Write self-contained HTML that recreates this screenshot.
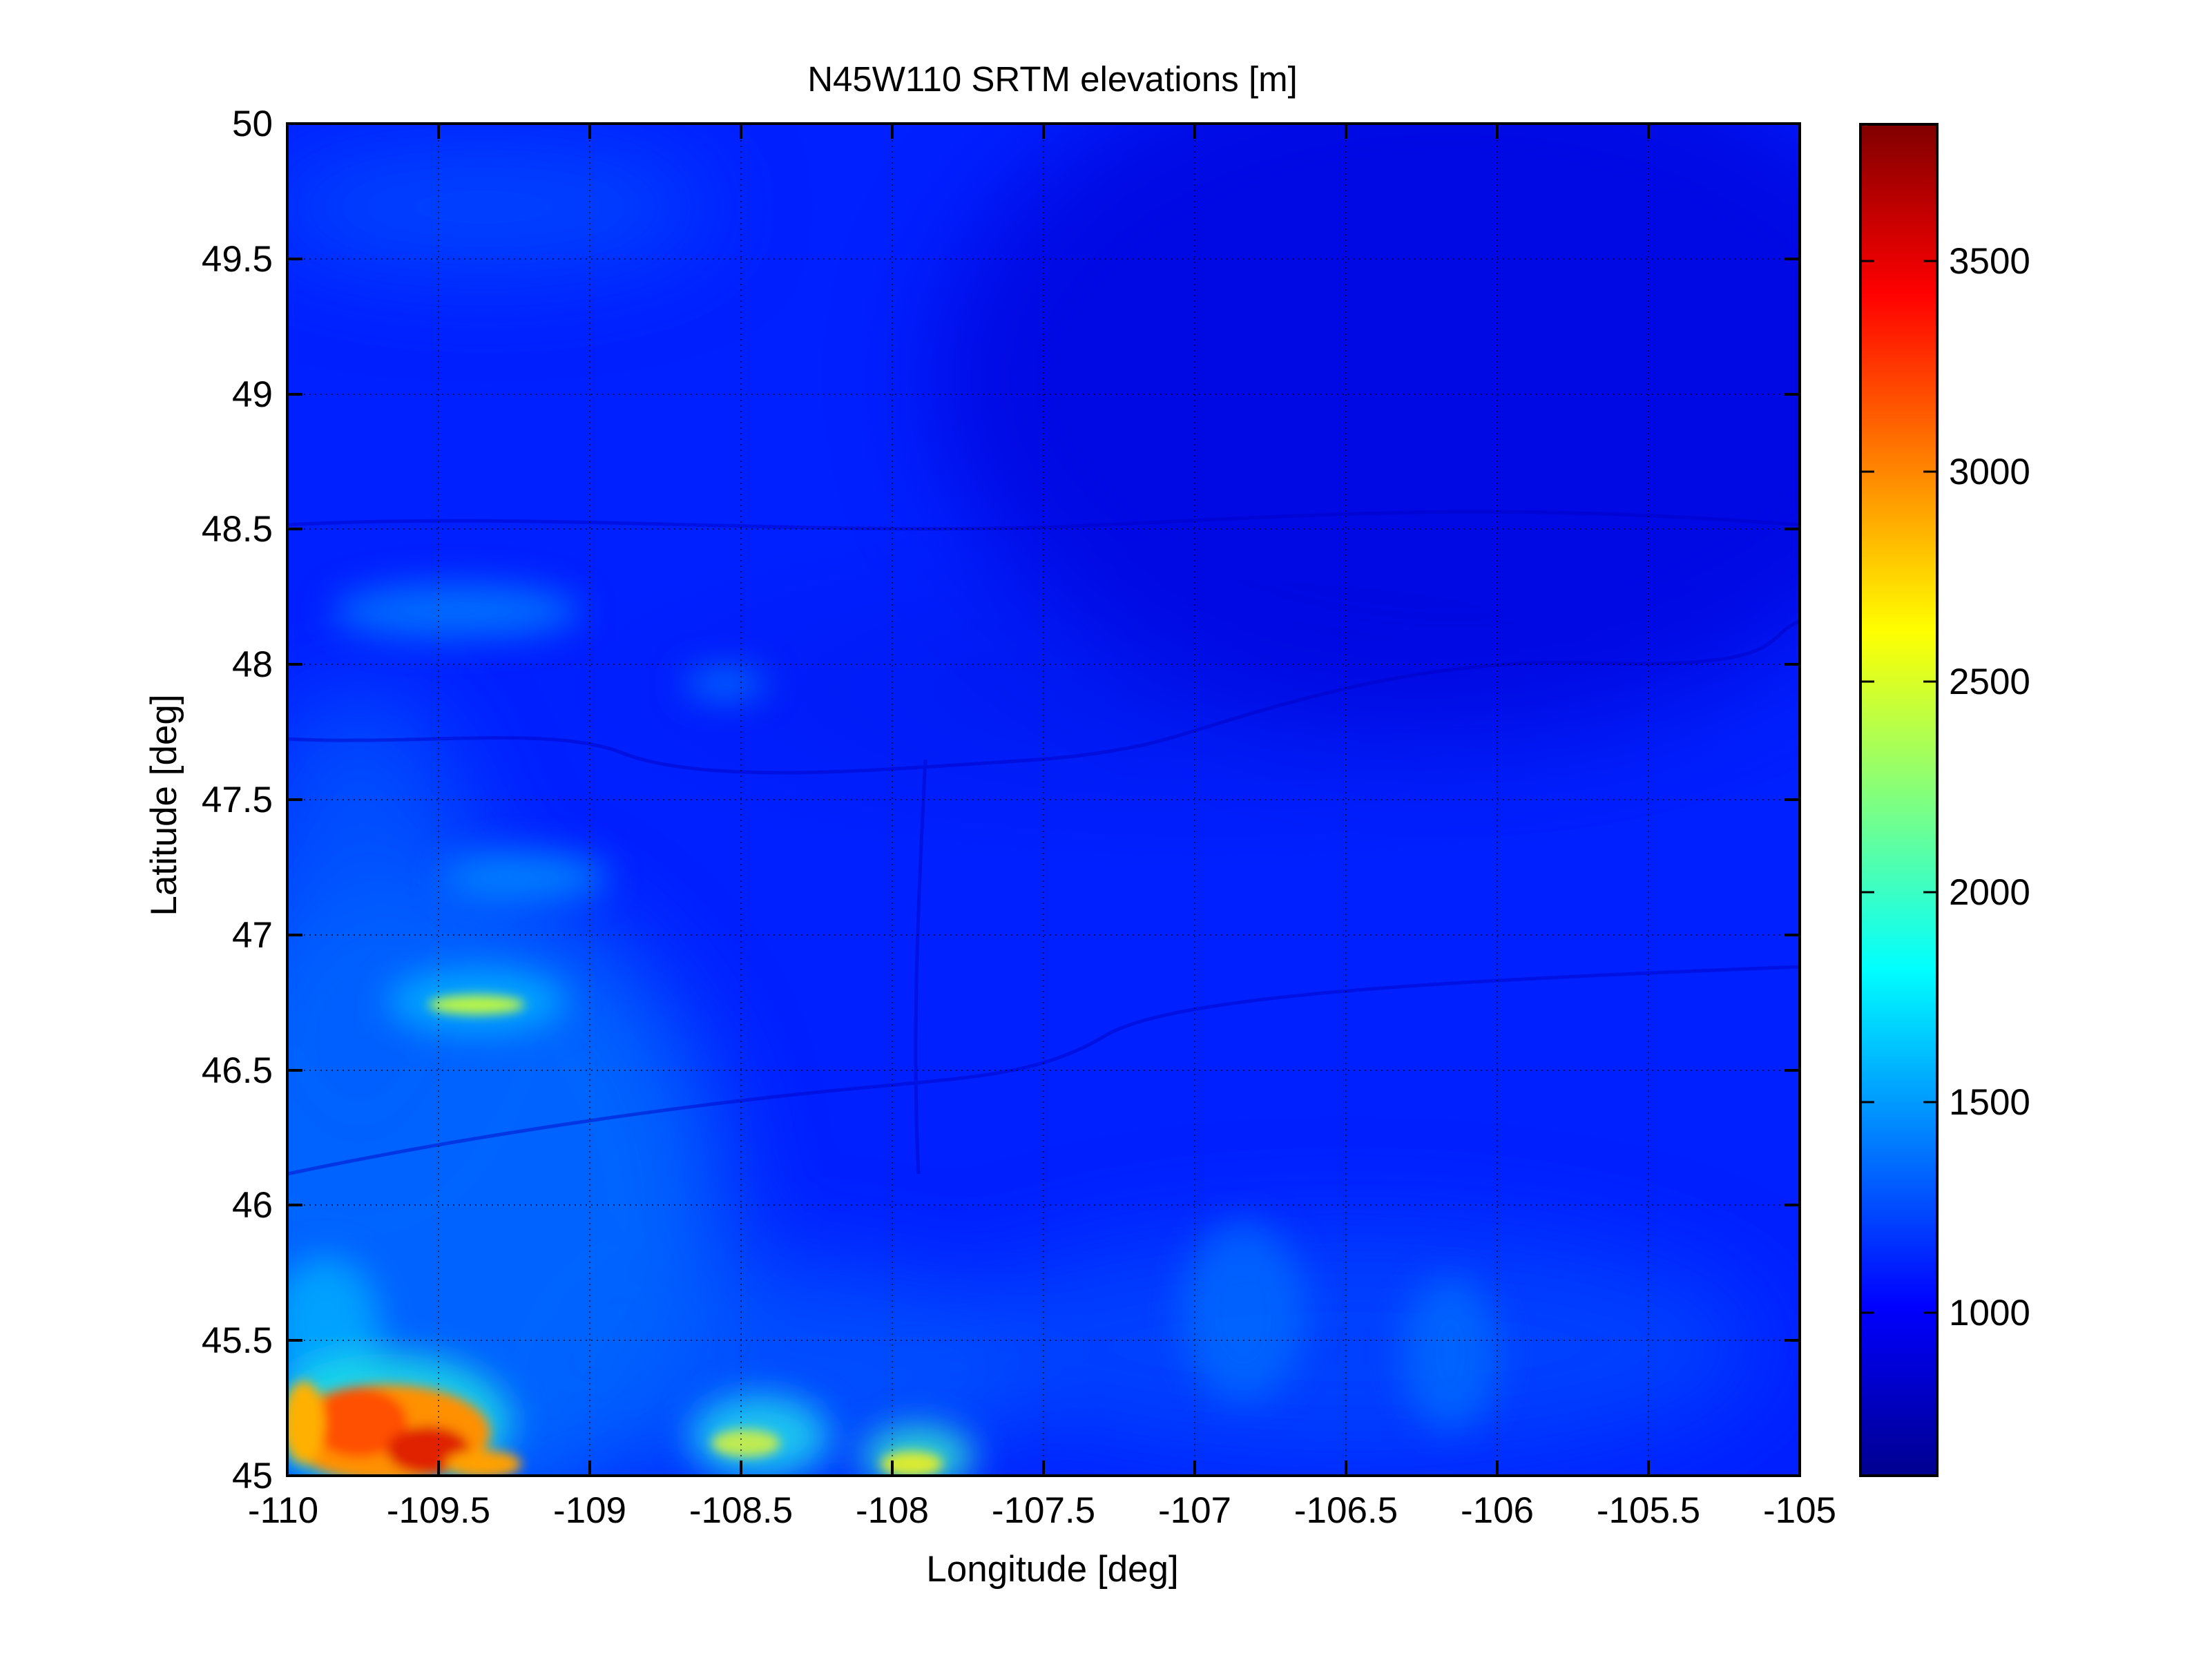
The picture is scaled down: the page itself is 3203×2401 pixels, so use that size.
<!DOCTYPE html>
<html><head><meta charset="utf-8"><style>
html,body{margin:0;padding:0;background:#fff;}
svg{display:block;font-family:"Liberation Sans",Arial,sans-serif;}
</style></head><body>
<svg width="3203" height="2401" viewBox="0 0 3203 2401" xmlns="http://www.w3.org/2000/svg">
<defs>
<clipPath id="c"><rect x="416" y="179" width="2190" height="1958"/></clipPath>
<filter id="b1" filterUnits="userSpaceOnUse" x="0" y="0" width="3203" height="2401"><feGaussianBlur stdDeviation="70"/></filter>
<filter id="b2" filterUnits="userSpaceOnUse" x="0" y="0" width="3203" height="2401"><feGaussianBlur stdDeviation="25"/></filter>
<filter id="b3" filterUnits="userSpaceOnUse" x="0" y="0" width="3203" height="2401"><feGaussianBlur stdDeviation="8"/></filter>
<radialGradient id="rg"><stop offset="0" stop-color="#0010e0" stop-opacity="0.45"/><stop offset="1" stop-color="#0010e0" stop-opacity="0"/></radialGradient>
<linearGradient id="jet" x1="0" y1="1" x2="0" y2="0">
<stop offset="0" stop-color="#00008f"/><stop offset="0.125" stop-color="#0000ff"/>
<stop offset="0.375" stop-color="#00ffff"/><stop offset="0.625" stop-color="#ffff00"/>
<stop offset="0.875" stop-color="#ff0000"/><stop offset="1" stop-color="#800000"/>
</linearGradient>
</defs>
<rect width="3203" height="2401" fill="#fff"/>
<text x="1524" y="132" font-size="51" text-anchor="middle">N45W110 SRTM elevations [m]</text>
<g clip-path="url(#c)">
<rect x="416" y="179" width="2190" height="1958" fill="#0020ff"/>
<ellipse cx="1750" cy="1000" rx="1000" ry="260" fill="url(#rg)"/>
<g filter="url(#b1)">
<ellipse cx="2100" cy="550" rx="750" ry="500" fill="#0008d8" opacity="0.7"/>
<ellipse cx="700" cy="300" rx="330" ry="90" fill="#0050ff" opacity="0.8"/>
<ellipse cx="620" cy="1750" rx="430" ry="480" fill="#0070ff" opacity="0.85"/>
<ellipse cx="520" cy="1350" rx="180" ry="350" fill="#0060ff" opacity="0.7"/>
<ellipse cx="1950" cy="1950" rx="600" ry="170" fill="#0050ff" opacity="0.7"/>
<ellipse cx="1150" cy="2000" rx="320" ry="170" fill="#0060ff" opacity="0.7"/>
</g>
<g filter="url(#b2)">
<ellipse cx="660" cy="885" rx="180" ry="40" fill="#0080ff" opacity="0.8"/>
<ellipse cx="1050" cy="990" rx="60" ry="22" fill="#0080ff" opacity="0.8"/>
<ellipse cx="760" cy="1270" rx="120" ry="35" fill="#0090ff" opacity="0.8"/>
<ellipse cx="690" cy="1450" rx="130" ry="45" fill="#00b0ff" opacity="0.9"/>
<ellipse cx="470" cy="1920" rx="80" ry="100" fill="#00b0ff" opacity="0.8"/>
<ellipse cx="560" cy="2060" rx="180" ry="100" fill="#20e8e0" opacity="0.8"/>
<ellipse cx="1100" cy="2080" rx="100" ry="60" fill="#20d0f0" opacity="0.9"/>
<ellipse cx="1330" cy="2110" rx="80" ry="45" fill="#30e0d0" opacity="0.9"/>
<ellipse cx="1800" cy="1900" rx="90" ry="130" fill="#0070ff" opacity="0.7"/>
<ellipse cx="2100" cy="1960" rx="70" ry="110" fill="#0070ff" opacity="0.7"/>
</g>
<g filter="url(#b3)">
<ellipse cx="690" cy="1455" rx="70" ry="14" fill="#d0ff30" opacity="0.9"/>
<ellipse cx="1080" cy="2090" rx="50" ry="20" fill="#d0f040" opacity="0.9"/>
<ellipse cx="1320" cy="2120" rx="45" ry="18" fill="#f0f020" opacity="0.9"/>
<ellipse cx="560" cy="2075" rx="150" ry="70" fill="#ff9000"/>
<ellipse cx="520" cy="2060" rx="70" ry="50" fill="#ff5000"/>
<ellipse cx="620" cy="2100" rx="60" ry="35" fill="#e02000"/>
<ellipse cx="700" cy="2120" rx="55" ry="20" fill="#ffa000"/>
<ellipse cx="440" cy="2060" rx="30" ry="60" fill="#ffb000"/>
</g>
<g fill="none" stroke="#0000c0" stroke-width="5" opacity="0.45">
<path d="M416 1070 C600 1080 800 1050 900 1090 S1200 1120 1350 1110 S1550 1100 1650 1080 S2000 950 2300 960 S2550 920 2606 900"/>
<path d="M416 1700 C700 1640 1000 1600 1200 1580 S1500 1560 1600 1500 S2100 1420 2606 1400"/>
<path d="M1340 1100 C1330 1300 1320 1500 1330 1700"/>
<path d="M416 760 C800 740 1200 780 1600 760 S2200 730 2606 760"/>
</g>
<g stroke="#000" stroke-width="2" stroke-dasharray="2 6" opacity="0.6">
<path d="M635 179V2137M854 179V2137M1073 179V2137M1292 179V2137M1511 179V2137M1730 179V2137M1949 179V2137M2168 179V2137M2387 179V2137"/>
<path d="M416 375H2606M416 571H2606M416 766H2606M416 962H2606M416 1158H2606M416 1354H2606M416 1550H2606M416 1745H2606M416 1941H2606"/>
</g>
</g>
<rect x="416" y="179" width="2190" height="1958" fill="none" stroke="#000" stroke-width="4"/>
<g stroke="#000" stroke-width="4">
<path d="M635 2137v-22M854 2137v-22M1073 2137v-22M1292 2137v-22M1511 2137v-22M1730 2137v-22M1949 2137v-22M2168 2137v-22M2387 2137v-22"/>
<path d="M635 179v22M854 179v22M1073 179v22M1292 179v22M1511 179v22M1730 179v22M1949 179v22M2168 179v22M2387 179v22"/>
<path d="M416 375h22M416 571h22M416 766h22M416 962h22M416 1158h22M416 1354h22M416 1550h22M416 1745h22M416 1941h22"/>
<path d="M2606 375h-22M2606 571h-22M2606 766h-22M2606 962h-22M2606 1158h-22M2606 1354h-22M2606 1550h-22M2606 1745h-22M2606 1941h-22"/>
</g>
<g font-size="53" text-anchor="end">
<text x="395" y="197">50</text><text x="395" y="393">49.5</text><text x="395" y="589">49</text>
<text x="395" y="784">48.5</text><text x="395" y="980">48</text><text x="395" y="1176">47.5</text>
<text x="395" y="1372">47</text><text x="395" y="1568">46.5</text><text x="395" y="1763">46</text>
<text x="395" y="1959">45.5</text><text x="395" y="2155">45</text>
</g>
<g font-size="53" text-anchor="middle">
<text x="410" y="2205">-110</text><text x="635" y="2205">-109.5</text><text x="854" y="2205">-109</text>
<text x="1073" y="2205">-108.5</text><text x="1292" y="2205">-108</text><text x="1511" y="2205">-107.5</text>
<text x="1730" y="2205">-107</text><text x="1949" y="2205">-106.5</text><text x="2168" y="2205">-106</text>
<text x="2387" y="2205">-105.5</text><text x="2606" y="2205">-105</text>
</g>
<text x="1524" y="2290" font-size="53" text-anchor="middle">Longitude [deg]</text>
<text transform="translate(255,1166) rotate(-90)" font-size="53" text-anchor="middle">Latitude [deg]</text>
<rect x="2694" y="180" width="111" height="1957" fill="url(#jet)" stroke="#000" stroke-width="4"/>
<g stroke="#000" stroke-width="3">
<path d="M2694 378h20M2805 378h-20M2694 683h20M2805 683h-20M2694 987h20M2805 987h-20M2694 1292h20M2805 1292h-20M2694 1596h20M2805 1596h-20M2694 1901h20M2805 1901h-20"/>
</g>
<g font-size="53">
<text x="2822" y="396">3500</text><text x="2822" y="701">3000</text><text x="2822" y="1005">2500</text>
<text x="2822" y="1310">2000</text><text x="2822" y="1614">1500</text><text x="2822" y="1919">1000</text>
</g>
</svg>
</body></html>
